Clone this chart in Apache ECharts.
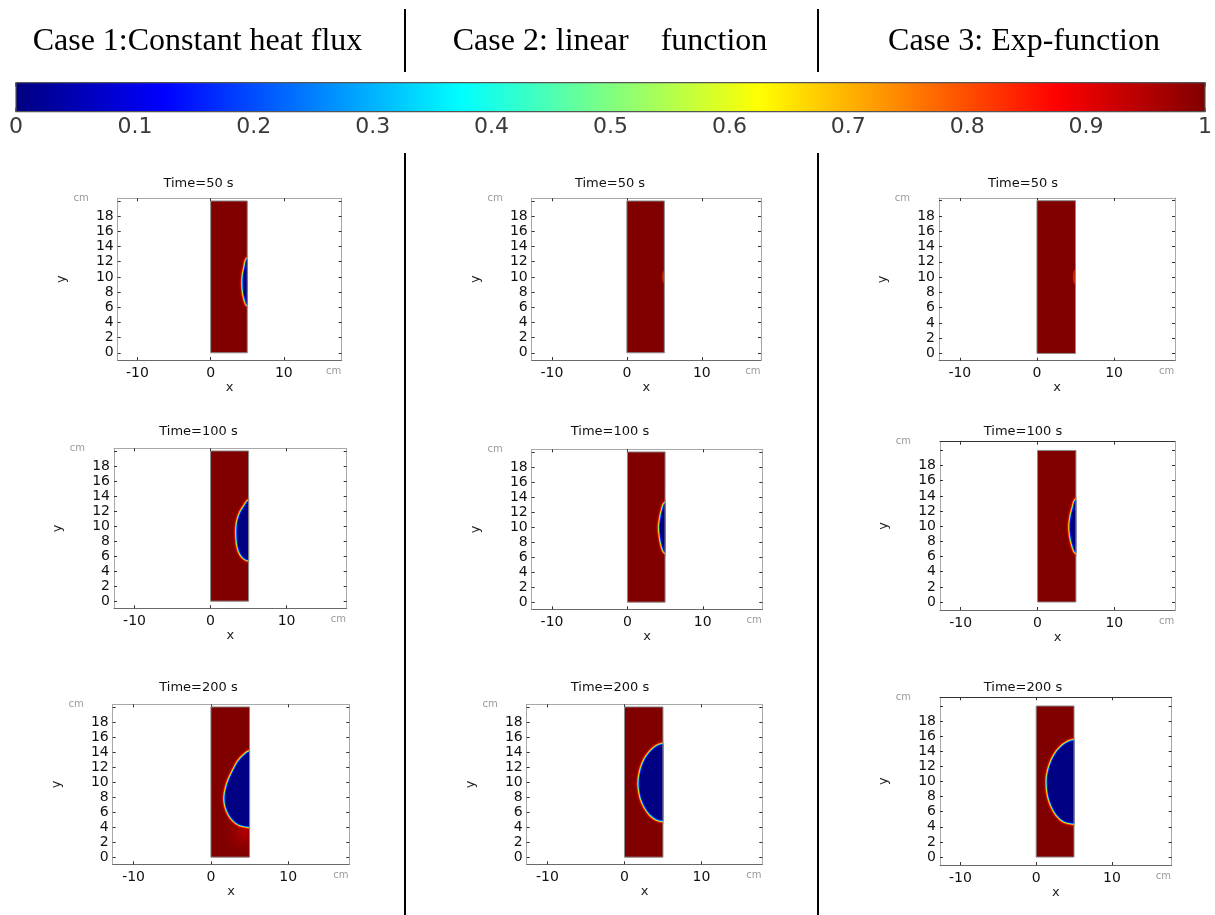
<!DOCTYPE html>
<html>
<head>
<meta charset="utf-8">
<script src="https://cdn.jsdelivr.net/npm/echarts@6/dist/echarts.min.js"></script>
<style>
  html, body { margin: 0; padding: 0; background: #fff; }
  #chart { width: 1215px; height: 915px; }
</style>
</head>
<body>
<div id="chart"></div>
<script>
// ---------- values ----------
const caseTitles = ['Case 1:Constant heat flux', 'Case 2: linear    function', 'Case 3: Exp-function'];
const timeTitles = ['Time=50 s', 'Time=100 s', 'Time=200 s'];
const colorbarTicks = [0, 0.1, 0.2, 0.3, 0.4, 0.5, 0.6, 0.7, 0.8, 0.9, 1];
const xTickValues = [-10, 0, 10];
const yTickValues = [0, 2, 4, 6, 8, 10, 12, 14, 16, 18];
const yTickMarks = [0, 2, 4, 6, 8, 10, 12, 14, 16, 18, 20];
const xUnitAt = 16.8;
const domainX = [0, 5];     // cm
const domainY = [0, 20];    // cm

// melt-front outlines (x, y in cm), each starting and ending on the heated wall x = 5
const front1_50  = [[5, 12.3], [4.75, 11.4], [4.5, 10.2], [4.45, 9.0], [4.55, 7.8], [4.75, 7.0], [5, 6.4]];
const front1_100 = [[5, 13.3], [4.5, 12.6], [4.0, 11.8], [3.65, 10.8], [3.5, 9.8], [3.5, 8.6], [3.6, 7.5], [3.85, 6.6], [4.3, 5.9], [5, 5.5]];
const front1_200 = [[5, 14.0], [4.3, 13.5], [3.6, 12.7], [3.0, 11.6], [2.4, 10.3], [2.0, 9.0], [1.85, 7.8], [2.0, 6.7], [2.4, 5.7], [3.0, 4.9], [3.8, 4.35], [5, 4.1]];
const front2_50  = [[5, 10.6], [4.9, 10.0], [5, 9.4]];
const front2_100 = [[5, 13.1], [4.7, 12.3], [4.45, 11.2], [4.3, 10.0], [4.4, 8.8], [4.65, 7.5], [5, 6.7]];
const front2_200 = [[5, 15.0], [4.2, 14.7], [3.4, 14.0], [2.7, 13.0], [2.2, 11.7], [1.95, 10.3], [1.95, 9.3], [2.2, 7.9], [2.7, 6.7], [3.4, 5.7], [4.2, 5.1], [5, 4.9]];
const front3_50  = [[5, 10.8], [4.85, 10.0], [5, 9.2]];
const front3_100 = [[5, 13.4], [4.7, 12.5], [4.4, 11.3], [4.25, 10.0], [4.35, 8.7], [4.65, 7.4], [5, 6.6]];
const front3_200 = [[5, 15.4], [4.2, 15.15], [3.3, 14.5], [2.5, 13.5], [1.9, 12.2], [1.55, 10.8], [1.5, 9.6], [1.65, 8.2], [2.1, 6.8], [2.8, 5.6], [3.7, 4.8], [5, 4.5]];
// warm zone under the front, case 1 at 200 s (centre x, y and radius in cm)
const glow1_200 = [4.3, 3.2, 3.4];

// ---------- layout ----------
const xRange = [-12.7, 17.9];
const yRangeStd = [-0.95, 20.35];
const yRangeTall = [-1.05, 21.15];
// frame boxes [left, top, right, bottom] per row / column
const boxes = [
  [[117.7, 198.3, 341.7, 360.0], [531.7, 198.3, 761.0, 360.0], [939.0, 198.0, 1175.0, 360.7]],
  [[114.0, 448.3, 346.7, 608.3], [531.7, 449.3, 762.3, 609.3], [940.0, 441.7, 1175.0, 610.0]],
  [[112.7, 704.3, 349.3, 864.3], [526.7, 704.3, 762.3, 864.3], [940.0, 697.3, 1171.7, 865.0]]
];
const headerX = [197.5, 610, 1024];
const titleX = [198.5, 610, 1023];
const titleY = [183.5, 431.7, 687.3];

const panels = [
  { row: 0, col: 0, front: front1_50,  rim: 'full' },
  { row: 0, col: 1, front: front2_50,  rim: 'faint' },
  { row: 0, col: 2, front: front3_50,  rim: 'faint' },
  { row: 1, col: 0, front: front1_100, rim: 'full' },
  { row: 1, col: 1, front: front2_100, rim: 'full' },
  { row: 1, col: 2, front: front3_100, rim: 'full', tall: true },
  { row: 2, col: 0, front: front1_200, rim: 'full', glow: glow1_200 },
  { row: 2, col: 1, front: front2_200, rim: 'full' },
  { row: 2, col: 2, front: front3_200, rim: 'full', tall: true }
];

// jet colour map: liquid fraction 0 (navy) .. 1 (dark red)
const jetStops = [
  { offset: 0, color: '#000080' }, { offset: 0.125, color: '#0000ff' },
  { offset: 0.375, color: '#00ffff' }, { offset: 0.625, color: '#ffff00' },
  { offset: 0.875, color: '#ff0000' }, { offset: 1, color: '#800000' }
];
// transition band drawn around the front, outermost first
const rimLayers = {
  full: [
    { w: 8, c: 'rgba(235,0,0,0.30)' }, { w: 5.2, c: '#ff2a00' }, { w: 4.0, c: '#ffb000' },
    { w: 3.0, c: '#c8ff3a' }, { w: 2.3, c: '#00e4ff' }, { w: 1.5, c: '#0030ff' }
  ],
  faint: [{ w: 3, c: 'rgba(255,70,0,0.55)' }]
};

const FONT = 'DejaVu Sans';
const chart = echarts.init(document.getElementById('chart'));

function renderPanel(p) {
  return function (params, api) {
    const bl = api.coord([domainX[0], domainY[0]]);
    const tr = api.coord([domainX[1], domainY[1]]);
    const rect = { x: bl[0], y: tr[1], width: tr[0] - bl[0], height: bl[1] - tr[1] };
    const children = [{ type: 'rect', shape: rect, style: { fill: '#800000' } }];

    if (p.glow) {
      const c = api.coord([p.glow[0], p.glow[1]]);
      const r = api.coord([p.glow[0] + p.glow[2], p.glow[1]])[0] - c[0];
      children.push({
        type: 'rect', shape: rect,
        style: { fill: new echarts.graphic.RadialGradient(c[0], c[1], r, [
          { offset: 0, color: 'rgba(220,0,0,0.55)' },
          { offset: 0.5, color: 'rgba(180,0,0,0.25)' },
          { offset: 1, color: 'rgba(128,0,0,0)' }], true) }
      });
    }

    const f = p.front;
    const top = f[0][1], bottom = f[f.length - 1][1];
    // the outline is closed just outside the wall, then that strip is masked
    const outline = f.map(pt => api.coord(pt)).concat([
      api.coord([domainX[1] + 0.8, bottom]), api.coord([domainX[1] + 0.8, top])
    ]);
    rimLayers[p.rim].forEach(l => children.push({
      type: 'polygon', shape: { points: outline, smooth: 0.35 },
      style: { fill: null, stroke: l.c, lineWidth: l.w, lineJoin: 'round' }
    }));
    if (p.rim === 'full') {
      children.push({ type: 'polygon', shape: { points: outline, smooth: 0.35 }, style: { fill: '#000082' } });
    }
    const m1 = api.coord([domainX[1], top + 2]);
    const m2 = api.coord([domainX[1] + 2, bottom - 2]);
    children.push({ type: 'rect', shape: { x: m1[0] + 0.5, y: m1[1], width: m2[0] - m1[0], height: m2[1] - m1[1] }, style: { fill: '#fff' } });
    children.push({ type: 'rect', shape: rect, style: { fill: null, stroke: '#8c8c8c', lineWidth: 1 } });
    return { type: 'group', children };
  };
}

const grids = [], xAxes = [], yAxes = [], series = [], graphics = [];

panels.forEach((p, i) => {
  const b = boxes[p.row][p.col];
  const yr = p.tall ? yRangeTall : yRangeStd;
  grids.push({ left: b[0], top: b[1], width: b[2] - b[0], height: b[3] - b[1] });
  const xi = xAxes.length, yi = yAxes.length;
  xAxes.push({
    gridIndex: i, type: 'value', position: 'bottom', min: xRange[0], max: xRange[1],
    axisLine: { show: true, onZero: false, lineStyle: { color: '#6a6a6a', width: 1 } },
    axisTick: { show: true, inside: true, length: 3, customValues: xTickValues, lineStyle: { color: '#333' } },
    axisLabel: {
      show: true, customValues: xTickValues.concat([xUnitAt]), margin: 6,
      fontFamily: FONT, fontSize: 14, color: '#111',
      formatter: v => (v === xUnitAt ? '{u|cm}' : String(v)),
      rich: { u: { fontFamily: FONT, fontSize: 10, color: '#9a9a9a' } }
    },
    splitLine: { show: false },
    name: 'x', nameLocation: 'middle', nameGap: 17,
    nameTextStyle: { fontFamily: FONT, fontSize: 13, color: '#222' }
  });
  xAxes.push({
    gridIndex: i, type: 'value', position: 'top', min: xRange[0], max: xRange[1],
    axisLine: { show: true, onZero: false, lineStyle: { color: p.tall ? '#333' : '#a8a8a8', width: 1 } },
    axisTick: { show: true, inside: true, length: 3, customValues: xTickValues, lineStyle: { color: '#333' } },
    axisLabel: { show: false }, splitLine: { show: false },
    name: 'cm', nameLocation: 'start', nameGap: 29,
    nameTextStyle: { fontFamily: FONT, fontSize: 10, color: '#9a9a9a', align: 'right', verticalAlign: 'middle' }
  });
  yAxes.push({
    gridIndex: i, type: 'value', position: 'left', min: yr[0], max: yr[1],
    axisLine: { show: true, onZero: false, lineStyle: { color: '#a8a8a8', width: 1 } },
    axisTick: { show: true, inside: true, length: 3, customValues: yTickMarks, lineStyle: { color: '#333' } },
    axisLabel: { show: true, customValues: yTickValues, margin: 4, fontFamily: FONT, fontSize: 14, color: '#111' },
    splitLine: { show: false },
    name: 'y', nameLocation: 'middle', nameGap: 50, nameRotate: 90,
    nameTextStyle: { fontFamily: FONT, fontSize: 13, color: '#222' }
  });
  yAxes.push({
    gridIndex: i, type: 'value', position: 'right', min: yr[0], max: yr[1],
    axisLine: { show: true, onZero: false, lineStyle: { color: '#a8a8a8', width: 1 } },
    axisTick: { show: true, inside: true, length: 3, customValues: yTickMarks, lineStyle: { color: '#333' } },
    axisLabel: { show: false }, splitLine: { show: false }
  });
  series.push({
    type: 'custom', coordinateSystem: 'cartesian2d', xAxisIndex: xi, yAxisIndex: yi,
    data: [[0, 0]], renderItem: renderPanel(p), silent: true, clip: false, animation: false
  });
});

// colour bar
const cbGrid = grids.length;
grids.push({ left: 16, right: 9, top: 82.7, height: 29 });
const cbx = xAxes.length, cby = yAxes.length;
xAxes.push({
  gridIndex: cbGrid, type: 'value', position: 'bottom', min: colorbarTicks[0], max: colorbarTicks[colorbarTicks.length - 1], interval: 0.1,
  axisLine: { show: false },
  axisTick: { show: true, inside: true, length: 4, lineStyle: { color: '#333', width: 1.5 } },
  axisLabel: { show: true, margin: 5, fontFamily: FONT, fontSize: 22, color: '#3a3a3a' },
  splitLine: { show: false }
});
xAxes.push({
  gridIndex: cbGrid, type: 'value', position: 'top', min: 0, max: 1, interval: 0.1,
  axisLine: { show: false },
  axisTick: { show: true, inside: true, length: 4, lineStyle: { color: '#333', width: 1.5 } },
  axisLabel: { show: false }, splitLine: { show: false }
});
yAxes.push({ gridIndex: cbGrid, type: 'value', min: 0, max: 1, show: false });
series.push({
  type: 'custom', coordinateSystem: 'cartesian2d', xAxisIndex: cbx, yAxisIndex: cby,
  data: [[0, 0]], silent: true, animation: false, z: 1,
  renderItem: function (params, api) {
    const a = api.coord([colorbarTicks[0], 0]);
    const b = api.coord([colorbarTicks[colorbarTicks.length - 1], 1]);
    return {
      type: 'rect', shape: { x: a[0], y: b[1], width: b[0] - a[0], height: a[1] - b[1] },
      style: { fill: new echarts.graphic.LinearGradient(0, 0, 1, 0, jetStops), stroke: '#555', lineWidth: 1.2 }
    };
  }
});

// headers, panel titles, separators
caseTitles.forEach((t, i) => graphics.push({
  type: 'text', x: headerX[i], y: 42,
  style: { text: t, font: '32px "Liberation Serif"', fill: '#000', textAlign: 'center', textVerticalAlign: 'middle' }
}));
panels.forEach(p => graphics.push({
  type: 'text', x: titleX[p.col], y: titleY[p.row],
  style: { text: timeTitles[p.row], font: '13px "DejaVu Sans"', fill: '#111', textAlign: 'center', textVerticalAlign: 'middle' }
}));
[405, 818].forEach(x => {
  graphics.push({ type: 'line', shape: { x1: x, y1: 9, x2: x, y2: 72 }, style: { stroke: '#000', lineWidth: 2 } });
  graphics.push({ type: 'line', shape: { x1: x, y1: 153, x2: x, y2: 915 }, style: { stroke: '#000', lineWidth: 2 } });
});

chart.setOption({
  backgroundColor: '#fff',
  animation: false,
  grid: grids,
  xAxis: xAxes,
  yAxis: yAxes,
  series: series,
  graphic: graphics
});
</script>
</body>
</html>
